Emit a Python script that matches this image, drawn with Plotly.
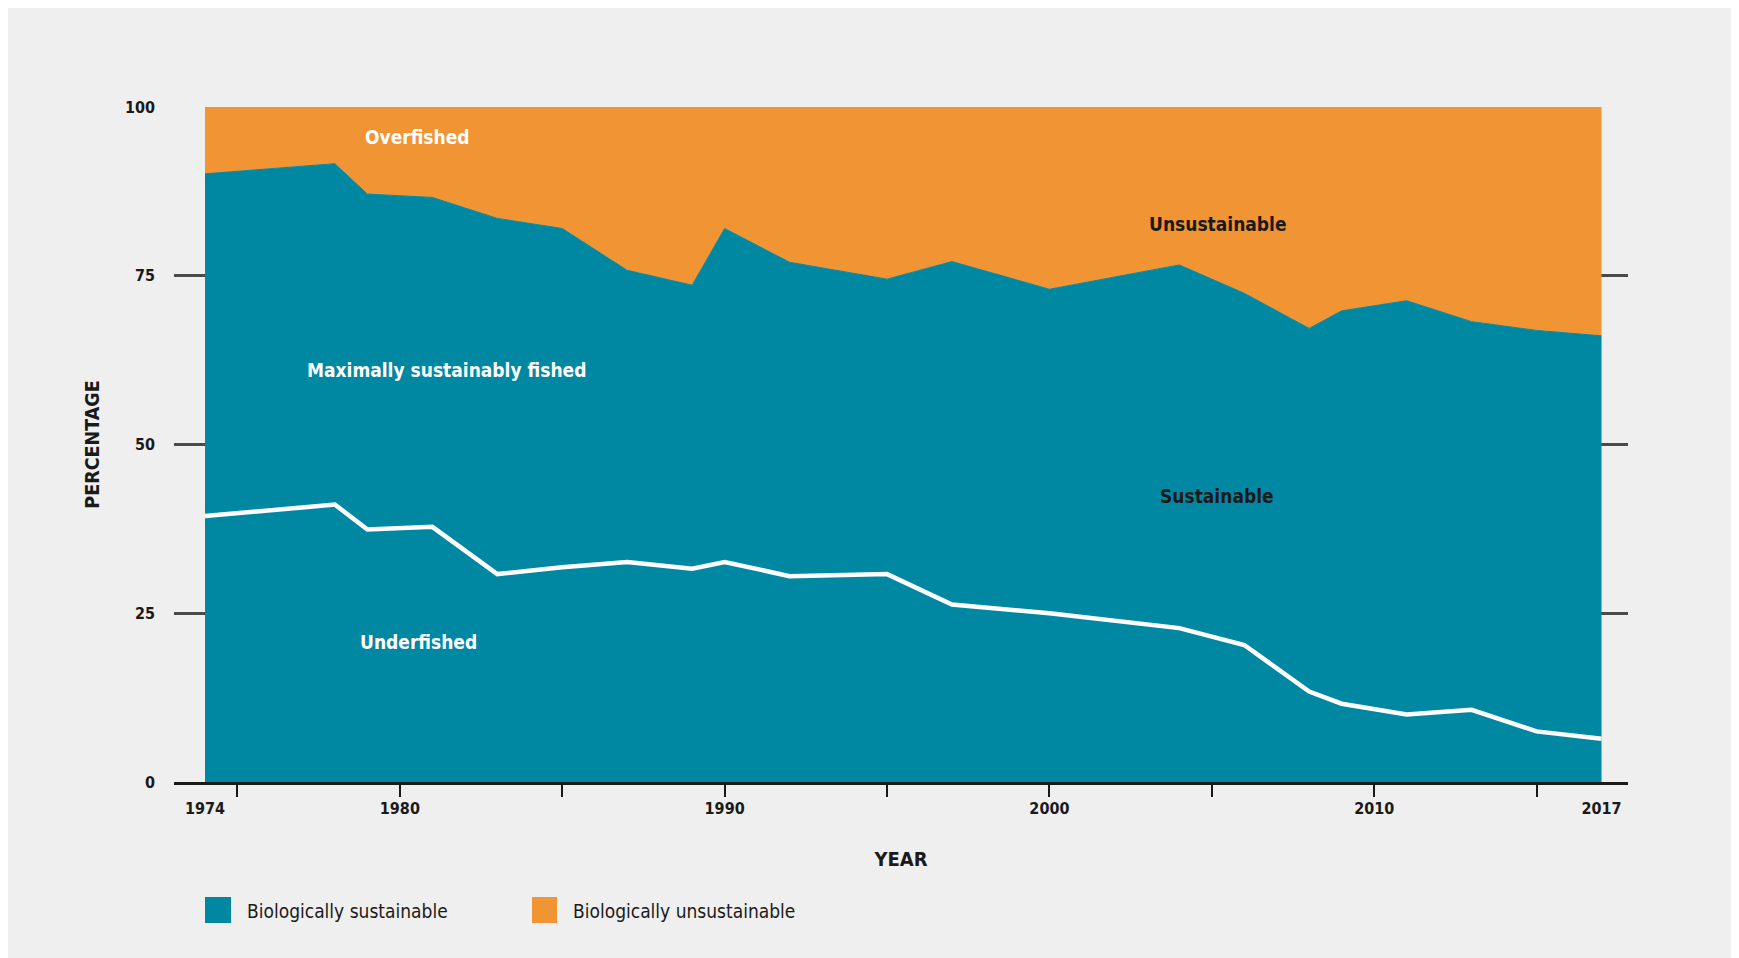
import plotly.graph_objects as go

# ---- data ----
years = [1974, 1978, 1979, 1981, 1983, 1985, 1987, 1989, 1990, 1992, 1995,
         1997, 2000, 2004, 2006, 2008, 2009, 2011, 2013, 2015, 2017]
sustainable = [90.1, 91.6, 87.1, 86.6, 83.5, 82.0, 75.8, 73.6, 82.0, 77.0, 74.5,
               77.1, 73.0, 76.6, 72.4, 67.2, 69.8, 71.3, 68.2, 66.9, 66.1]
unsustainable = [9.9, 8.4, 12.9, 13.4, 16.5, 18.0, 24.2, 26.4, 18.0, 23.0, 25.5,
                 22.9, 27.0, 23.4, 27.6, 32.8, 30.2, 28.7, 31.8, 33.1, 33.9]
underfished = [39.4, 41.1, 37.4, 37.8, 30.8, 31.8, 32.6, 31.6, 32.6, 30.5, 30.8,
               26.3, 25.0, 22.8, 20.3, 13.4, 11.6, 10.0, 10.7, 7.5, 6.4]

x_tick_marks = [1975, 1980, 1985, 1990, 1995, 2000, 2005, 2010, 2015]
x_tick_labels = [1974, 1980, 1990, 2000, 2010, 2017]
y_ticks = [0, 25, 50, 75, 100]

legend_names = ["Biologically sustainable", "Biologically unsustainable"]
area_labels = ["Overfished", "Maximally sustainably fished", "Underfished",
               "Unsustainable", "Sustainable"]

# ---- style ----
TEAL = "#0088A3"
ORANGE = "#F09434"
BG = "#EFEFEF"
INK = "#1a1a1a"
FONT = "Liberation Sans Narrow, DejaVu Sans Condensed, Arial Narrow, sans-serif"

W, H = 1739, 958
OFF = 8  # page body margin
ML, MR, MT, MB = 166, 119, 99, 184
XRANGE = [1973.045, 2017.816]

fig = go.Figure()
fig.add_trace(go.Scatter(
    x=years, y=sustainable, name=legend_names[0], stackgroup="one",
    mode="lines", line=dict(color=TEAL, width=1), fillcolor=TEAL,
    showlegend=False, hoverinfo="x+y"))
fig.add_trace(go.Scatter(
    x=years, y=unsustainable, name=legend_names[1], stackgroup="one",
    mode="lines", line=dict(color=ORANGE, width=0), fillcolor=ORANGE,
    showlegend=False, hoverinfo="x+y"))
fig.add_trace(go.Scatter(
    x=years, y=underfished, name="Underfished", xaxis="x2",
    mode="lines", line=dict(color="white", width=4.5),
    showlegend=False, hoverinfo="x+y"))

# in-chart area labels (data coordinates)
label_pos = [(1980.53, 95.6, "white"), (1981.45, 61.0, "white"),
             (1980.56, 20.7, "white"), (2005.18, 82.7, INK), (2005.15, 42.4, INK)]
for text, (lx, ly, col) in zip(area_labels, label_pos):
    fig.add_annotation(x=lx, y=ly, xref="x", yref="y", text=text, showarrow=False,
                       font=dict(family=FONT, size=19, color=col, weight="bold"))

# custom legend (square swatches + text), positioned in page pixels -> paper
pw = W - ML - MR
ph = H - MT - MB
def px2paper_x(px):
    return (px - OFF - ML) / pw
def py2paper_y(py):
    return (H - MB - (py - OFF)) / ph

swatches = [(205, 231, TEAL, 245), (532, 557, ORANGE, 571)]
for (x0, x1, col, tx), name in zip(swatches, legend_names):
    fig.add_shape(type="rect", xref="paper", yref="paper",
                  x0=px2paper_x(x0), x1=px2paper_x(x1),
                  y0=py2paper_y(923), y1=py2paper_y(897),
                  fillcolor=col, line=dict(width=0))
    fig.add_annotation(x=px2paper_x(tx), y=py2paper_y(911), xref="paper", yref="paper",
                       text=name, showarrow=False, xanchor="left", yanchor="middle",
                       font=dict(family=FONT, size=19, color=INK))

fig.update_layout(
    width=W, height=H,
    margin=dict(l=ML, r=MR, t=MT, b=MB, pad=0),
    paper_bgcolor=BG, plot_bgcolor=BG,
    showlegend=False,
    font=dict(family=FONT, color=INK),
    xaxis=dict(range=XRANGE, tickmode="array", tickvals=x_tick_marks,
               ticks="outside", ticklen=12, tickwidth=2, tickcolor=INK,
               showticklabels=False, showgrid=False, zeroline=False,
               showline=True, linecolor=INK, linewidth=3),
    xaxis2=dict(range=XRANGE, overlaying="x", anchor="y", side="bottom",
                tickmode="array", tickvals=x_tick_labels,
                ticktext=[str(v) for v in x_tick_labels],
                ticks="", showgrid=False, zeroline=False, showline=False,
                ticklabelstandoff=15,
                tickfont=dict(family=FONT, size=16, color=INK, weight="bold"),
                title=dict(text="YEAR", standoff=34,
                           font=dict(family=FONT, size=20, color=INK, weight="bold"))),
    yaxis=dict(range=[0, 100], tickmode="array", tickvals=y_ticks,
               ticks="", showgrid=True, gridcolor="#4a4a4a", gridwidth=2.5,
               zeroline=False, showline=False, ticklabelstandoff=18,
               tickfont=dict(family=FONT, size=16, color=INK, weight="bold"),
               title=dict(text="PERCENTAGE", standoff=20,
                          font=dict(family=FONT, size=19.5, color=INK, weight="bold"))),
)

fig.write_html("out.html")
